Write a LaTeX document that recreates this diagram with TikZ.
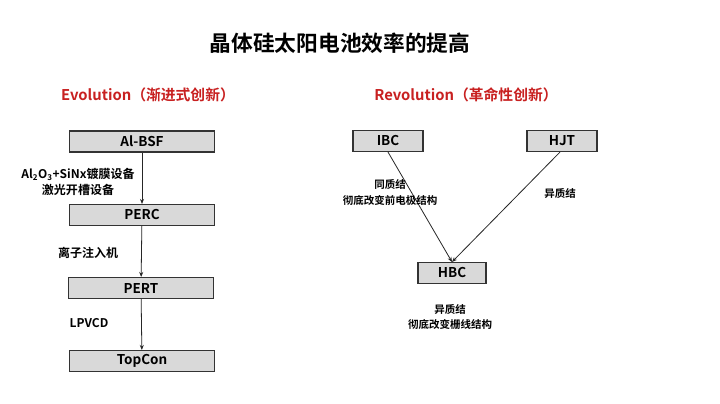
\documentclass[tikz,border=0pt]{standalone}
\usepackage{fontspec}
\setmainfont{Noto Sans CJK SC}[BoldFont={* Bold}]
\usetikzlibrary{arrows.meta}
\definecolor{boxgray}{RGB}{217,217,217}
\definecolor{evored}{RGB}{200,32,32}
\tikzset{
  cell/.style={draw=black!80, line width=1.1pt, fill=boxgray, minimum height=21pt, inner sep=0pt, font=\fontsize{13.5}{13.5}\selectfont\bfseries},
  wide/.style={cell, minimum width=145pt},
  narrow/.style={cell, minimum width=70pt},
  arr/.style={draw=black!85, line width=0.8pt, -{Stealth[length=5pt,width=4pt]}},
  lab/.style={font=\fontsize{12}{16}\selectfont\bfseries, align=center, inner sep=0pt},
  rlab/.style={lab, font=\fontsize{10.5}{16}\selectfont\bfseries},
  head/.style={font=\fontsize{14.8}{14.8}\selectfont\bfseries, text=evored, inner sep=0pt}
}
\begin{document}
\begin{tikzpicture}[x=1pt,y=-1pt]
\useasboundingbox[fill=white] (0,0) rectangle (720,404);
\node[font=\fontsize{21.7}{21.7}\selectfont\bfseries, inner sep=0pt] (title) at (340,43) {晶体硅太阳电池效率的提高};
\node[head] (evo) at (148,95) {Evolution（渐进式创新）};
\node[head] (rev) at (466,95) {Revolution（革命性创新）};

\node[wide] (albsf) at (142,141.5) {Al-BSF};
\node[wide] (perc) at (142,215) {PERC};
\node[wide] (pert) at (141,288) {PERT};
\node[wide] (topcon) at (142,361) {TopCon};
\draw[arr] (albsf) -- (perc);
\draw[arr] (perc) -- (pert);
\draw[arr] (pert) -- (topcon);
\node[lab] (l1) at (78,182) {Al\textsubscript{2}O\textsubscript{3}+SiNx镀膜设备\\激光开槽设备};
\node[lab] (l2) at (88,253) {离子注入机};
\node[lab] (l3) at (89,323) {LPVCD};

\node[narrow] (ibc) at (388,141) {IBC};
\node[narrow] (hjt) at (562,141) {HJT};
\node[narrow, minimum width=68pt] (hbc) at (452,273) {HBC};
\coordinate (hbctop) at (452,262);
\draw[arr] (ibc.south) -- (hbctop);
\draw[arr] (hjt.south) ++(-2,0) coordinate (hjts) -- (hbctop);
\node[rlab] (l4) at (390,192) {同质结\\彻底改变前电极结构};
\node[rlab] (l5) at (560,193) {异质结};
\node[rlab, font=\fontsize{10.5}{15}\selectfont\bfseries] (l6) at (450,317) {异质结\\彻底改变栅线结构};
\end{tikzpicture}
\end{document}
